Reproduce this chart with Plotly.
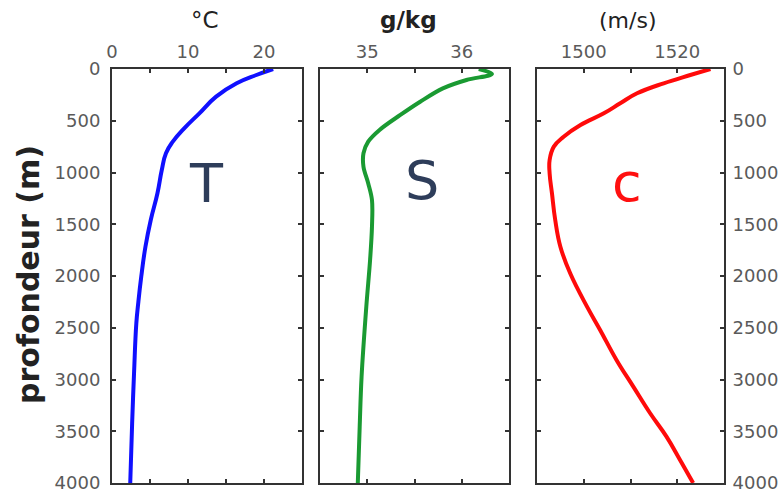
import plotly.graph_objects as go

# ---- data ----
depth_T = [0, 58, 138, 267, 428, 573, 702, 814, 976, 1201, 1459, 1717, 2006, 2264, 2457, 2940, 3423, 4000]
temp_T = [21.2, 19.0, 16.4, 13.7, 11.5, 9.5, 8.0, 7.1, 6.55, 5.98, 5.1, 4.4, 3.85, 3.45, 3.2, 2.9, 2.65, 2.4]

depth_S = [0, 48, 106, 187, 316, 444, 589, 702, 814, 944, 1104, 1265, 1523, 1845, 2296, 2972, 3456, 4000]
sal_S = [36.18, 36.32, 36.05, 35.80, 35.56, 35.35, 35.13, 35.01, 34.96, 34.96, 35.01, 35.05, 35.05,
         35.03, 34.99, 34.94, 34.92, 34.90]

depth_c = [0, 58, 138, 235, 331, 428, 541, 654, 750, 879, 1008, 1201, 1459, 1717, 1974, 2296,
           2521, 2811, 3069, 3326, 3552, 3777, 4000]
speed_c = [1527.1, 1522.8, 1517.1, 1511.4, 1507.8, 1504.3, 1499.3, 1495.7, 1493.6, 1492.7, 1492.7, 1493.2,
           1493.9, 1495.0, 1497.1, 1500.7, 1503.5, 1507.0, 1510.6, 1514.2, 1517.7, 1520.6, 1523.4]

depth_ticks = [0, 500, 1000, 1500, 2000, 2500, 3000, 3500, 4000]
T_ticks = [0, 5, 10, 15, 20, 25]
T_text = ["0", "", "10", "", "20", ""]
S_ticks = [34.5, 35, 35.5, 36, 36.5]
S_text = ["", "35", "", "36", ""]
c_ticks = [1490, 1500, 1510, 1520, 1530]
c_text = ["", "1500", "", "1520", ""]

W, H = 784, 494
FONT = "DejaVu Sans"
TICKFONT = dict(family=FONT, size=18, color="#5a5a5a")
FRAME = "#333333"

fig = go.Figure()
fig.add_trace(go.Scatter(x=temp_T, y=depth_T, mode="lines",
                         line=dict(color="#1010ff", width=4, shape="spline", smoothing=1.3),
                         xaxis="x", yaxis="y", showlegend=False))
fig.add_trace(go.Scatter(x=sal_S, y=depth_S, mode="lines",
                         line=dict(color="#1a9a32", width=4, shape="spline", smoothing=1.0),
                         xaxis="x2", yaxis="y2", showlegend=False))
fig.add_trace(go.Scatter(x=speed_c, y=depth_c, mode="lines",
                         line=dict(color="#ff0a0a", width=4, shape="spline", smoothing=1.2),
                         xaxis="x3", yaxis="y3", showlegend=False))

ydom = [1 - 483 / H, 1 - 69 / H]
doms = [[112 / W, 302 / W], [320 / W, 509 / W], [537 / W, 724 / W]]


def xax(dom, rng, tv, tt, anchor):
    return dict(domain=dom, range=rng, side="top", tickvals=tv, ticktext=tt, ticks="inside", ticklen=4,
                tickwidth=1.5, tickcolor=FRAME, showline=True, linecolor=FRAME, linewidth=2, mirror="ticks",
                showgrid=False, zeroline=False, tickfont=TICKFONT, anchor=anchor, ticklabelstandoff=2,
                automargin=False)


def yax(side, show, anchor, standoff):
    return dict(domain=ydom, range=[4000, 0], tickvals=depth_ticks, ticks="inside", ticklen=4, tickwidth=1.5,
                tickcolor=FRAME, showline=True, linecolor=FRAME, linewidth=2, mirror="ticks", showgrid=False,
                zeroline=False, tickfont=TICKFONT, side=side, showticklabels=show, anchor=anchor,
                ticklabelstandoff=standoff, automargin=False)


fig.update_layout(
    width=W, height=H, margin=dict(l=0, r=0, t=0, b=0), paper_bgcolor="white", plot_bgcolor="white",
    xaxis=xax(doms[0], [0, 25], T_ticks, T_text, "y"),
    xaxis2=xax(doms[1], [34.5, 36.5], S_ticks, S_text, "y2"),
    xaxis3=xax(doms[2], [1490, 1530], c_ticks, c_text, "y3"),
    yaxis=yax("left", True, "x", 6),
    yaxis2=yax("left", False, "x2", 0),
    yaxis3=yax("right", True, "x3", 3),
)

ann = [
    dict(text="°C", x=205 / W, y=1 - 20 / H, font=dict(family=FONT, size=23, color="#222")),
    dict(text="<b>g/kg</b>", x=408 / W, y=1 - 20 / H, font=dict(family=FONT, size=23, color="#222")),
    dict(text="(m/s)", x=627 / W, y=1 - 20 / H, font=dict(family=FONT, size=22, color="#222")),
    dict(text="<b>profondeur (m)</b>", x=28 / W, y=1 - 275 / H, textangle=-90,
         font=dict(family=FONT, size=30, color="#222")),
    dict(text="T", x=206 / W, y=1 - 184 / H, font=dict(family=FONT, size=54, color="#2e3d5a")),
    dict(text="S", x=422 / W, y=1 - 181 / H, font=dict(family=FONT, size=54, color="#2e3d5a")),
    dict(text="c", x=627 / W, y=1 - 182 / H, font=dict(family=FONT, size=54, color="#ff1010")),
]
for a in ann:
    a.update(xref="paper", yref="paper", showarrow=False, xanchor="center", yanchor="middle")
fig.update_layout(annotations=ann)

fig.write_html("out.html", config={"displayModeBar": False},
               post_script="document.body.style.margin='0';document.body.style.overflow='hidden';")
